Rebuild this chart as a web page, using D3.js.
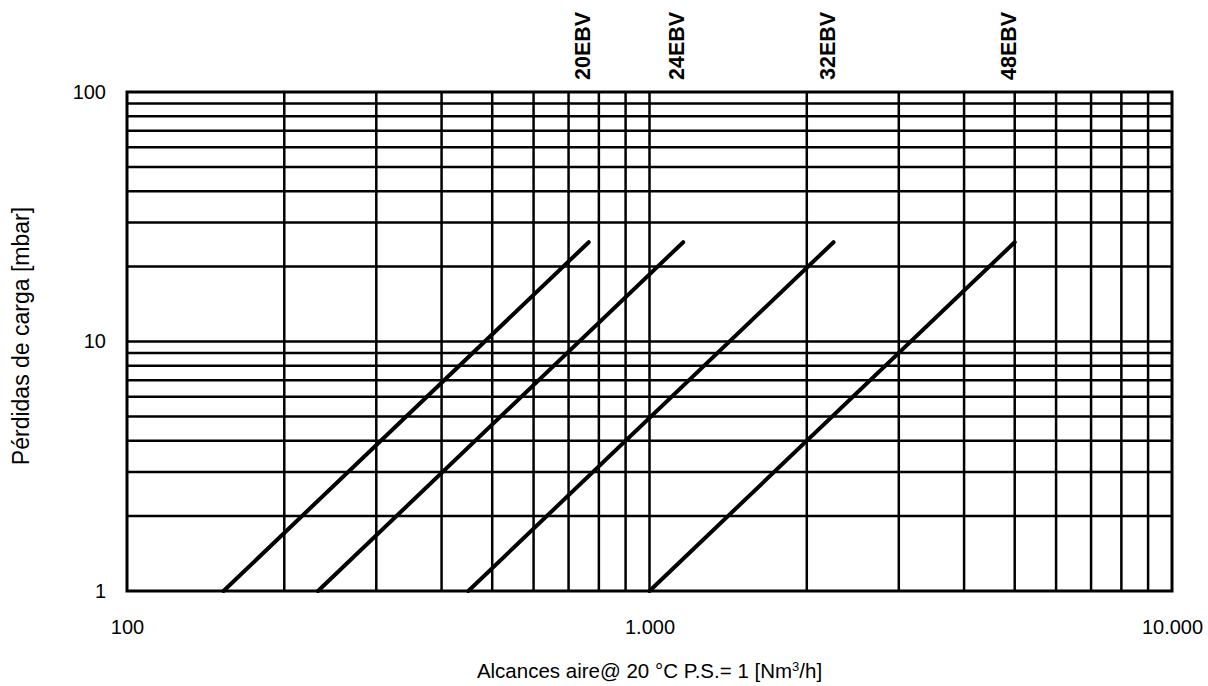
<!DOCTYPE html>
<html>
<head>
<meta charset="utf-8">
<script src="https://cdn.jsdelivr.net/npm/d3@7/dist/d3.min.js"></script>
<style>
    body { margin: 0; background: #fff; }
    svg text { font-family: "Liberation Sans", Arial, sans-serif; fill: #000; }
</style>
</head>
<body>
<svg id="chart" width="1208" height="686"></svg>
<script>
// caudal (Nm3/h) a 1 mbar y a 25 mbar para cada modelo
const models     = ['20EBV', '24EBV', '32EBV', '48EBV'];
const flowAt1    = [153, 232, 450, 1000];
const flowAt25   = [765, 1160, 2250, 5000];
const dropRange  = [1, 25];

const xTickLabels = [100, 1000, 10000];
const yTickLabels = [1, 10, 100];
const xGrid = [200, 300, 400, 500, 600, 700, 800, 900, 1000,
               2000, 3000, 4000, 5000, 6000, 7000, 8000, 9000];
const yGrid = [2, 3, 4, 5, 6, 7, 8, 9, 10, 20, 30, 40, 50, 60, 70, 80, 90];

const margin = { top: 92, right: 36, bottom: 95, left: 127 };
const width  = 1208 - margin.left - margin.right;
const height = 686 - margin.top - margin.bottom;

const locale = d3.formatLocale({ decimal: ',', thousands: '.', grouping: [3], currency: ['', '€'] });
const fmt = locale.format(',d');

const svg = d3.select('#chart');
const g = svg.append('g').attr('transform', `translate(${margin.left},${margin.top})`);

let x = d3.scaleLog().domain([100, 10000]).range([0, width]);
let y = d3.scaleLog().domain([1, 100]).range([height, 0]);

// rejilla
g.append('g')
    .selectAll('line')
    .data(xGrid)
    .join('line')
    .attr('x1', d => x(d)).attr('x2', d => x(d))
    .attr('y1', 0).attr('y2', height)
    .attr('stroke', '#000').attr('stroke-width', 2.5);

g.append('g')
    .selectAll('line')
    .data(yGrid)
    .join('line')
    .attr('x1', 0).attr('x2', width)
    .attr('y1', d => y(d)).attr('y2', d => y(d))
    .attr('stroke', '#000').attr('stroke-width', 2.5);

g.append('rect')
    .attr('width', width).attr('height', height)
    .attr('fill', 'none').attr('stroke', '#000').attr('stroke-width', 3);

// ejes
let xAxis = g.append('g')
    .attr('transform', `translate(0,${height})`)
    .call(d3.axisBottom(x).tickValues(xTickLabels).tickFormat(fmt).tickSize(0).tickPadding(29));
xAxis.select('.domain').remove();
xAxis.selectAll('text').attr('font-size', 20).attr('fill', '#000');

let yAxis = g.append('g')
    .call(d3.axisLeft(y).tickValues(yTickLabels).tickFormat(fmt).tickSize(0).tickPadding(21));
yAxis.select('.domain').remove();
yAxis.selectAll('text').attr('font-size', 20).attr('fill', '#000');

// curvas
let line = d3.line().x(d => x(d[0])).y(d => y(d[1]));

models.forEach((name, i) => {
    let pts = [[flowAt1[i], dropRange[0]], [flowAt25[i], dropRange[1]]];

    g.append('path')
        .attr('d', line(pts))
        .attr('fill', 'none')
        .attr('stroke', '#000')
        .attr('stroke-width', 4)
        .attr('stroke-linecap', 'round');

    svg.append('text')
        .attr('transform', `translate(${margin.left + x(flowAt25[i]) + 1},80) rotate(-90)`)
        .attr('font-size', 21.5)
        .attr('font-weight', 'bold')
        .text(name);
});

// títulos
let xTitle = svg.append('text')
    .attr('x', margin.left + width / 2)
    .attr('y', 678)
    .attr('text-anchor', 'middle')
    .attr('font-size', 20.5)
    .text('Alcances aire@ 20 °C P.S.= 1 [Nm');
xTitle.append('tspan').attr('font-size', 13).attr('dy', -7).text('3');
xTitle.append('tspan').attr('dy', 7).text('/h]');

svg.append('text')
    .attr('transform', `translate(29,336) rotate(-90)`)
    .attr('text-anchor', 'middle')
    .attr('font-size', 23)
    .text('Pérdidas de carga [mbar]');
</script>
</body>
</html>
